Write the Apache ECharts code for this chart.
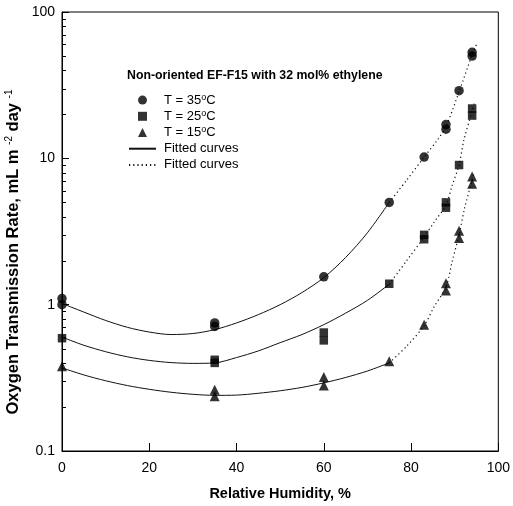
<!DOCTYPE html>
<html>
<head>
<meta charset="utf-8">
<script src="https://cdn.jsdelivr.net/npm/echarts@6/dist/echarts.min.js"></script>
<style>html,body{margin:0;padding:0;background:#fff;}#c{width:513px;height:506px;}</style>
</head>
<body>
<div id="c"></div>
<script>
// Measured points (relative humidity %, oxygen transmission rate)
const rh35 = [0, 0, 35, 35, 60, 75, 83, 88, 88, 91, 94, 94];
const otr35 = [1.1, 1.0, 0.75, 0.71, 1.55, 5.0, 10.2, 17.0, 15.8, 29, 53, 50];
const rh25 = [0, 35, 35, 60, 60, 75, 83, 83, 88, 88, 91, 94, 94];
const otr25 = [0.59, 0.42, 0.40, 0.645, 0.57, 1.39, 3.0, 2.8, 5.0, 4.6, 9.0, 21.9, 19.6];
const rh15 = [0, 35, 35, 60, 60, 75, 83, 88, 88, 91, 91, 94, 94];
const otr15 = [0.38, 0.262, 0.237, 0.32, 0.28, 0.41, 0.73, 1.4, 1.25, 3.2, 2.85, 7.5, 6.7];

// Fitted curves (solid part 0-75 %, dotted part 75-95 %)
const fitSolidRH = [0, 5, 10, 15, 20, 25, 30, 35, 40, 45, 50, 55, 60, 65, 70, 75];
const fitSolid35 = [1.02, 0.89, 0.78, 0.70, 0.65, 0.625, 0.635, 0.675, 0.75, 0.855, 1.0, 1.21, 1.53, 2.1, 3.1, 5.0];
const fitSolid25 = [0.60, 0.528, 0.477, 0.44, 0.416, 0.402, 0.397, 0.40, 0.435, 0.483, 0.55, 0.625, 0.73, 0.875, 1.07, 1.38];
const fitSolid15 = [0.37, 0.331, 0.302, 0.28, 0.264, 0.252, 0.244, 0.240, 0.241, 0.248, 0.258, 0.272, 0.292, 0.318, 0.352, 0.40];
const fitDotRH35 = [75, 79, 83, 86, 88, 91, 94, 95];
const fitDot35 = [5.0, 7.1, 10.2, 13.3, 16.5, 28.5, 51, 60];
const fitDotRH25 = [75, 79, 83, 85.3, 88, 89.4, 91, 92.1, 94, 94.5];
const fitDot25 = [1.38, 2.0, 2.9, 3.67, 4.8, 6.5, 9.0, 13.3, 21, 24];
const fitDotRH15 = [75, 79, 83, 85.3, 88, 89.4, 91, 92.3, 94, 94.5];
const fitDot15 = [0.40, 0.52, 0.72, 0.97, 1.32, 1.96, 3.0, 4.6, 7.1, 8.0];

// Axis ticks
const xTicks = [0, 20, 40, 60, 80, 100];
const yMajor = [0.1, 1, 10, 100];
const yMinor = [0.2,0.3,0.4,0.5,0.6,0.7,0.8,0.9,2,3,4,5,6,7,8,9,20,30,40,50,60,70,80,90];

const FONT = 'Liberation Sans, Arial, Helvetica, sans-serif';
const zip = (a, b) => a.map((v, i) => [v, b[i]]);

const chart = echarts.init(document.getElementById('c'), null, {renderer: 'canvas'});

const solidStyle = {color: '#111', width: 1, type: 'solid'};
const dotStyle = {color: '#111', width: 1.2, type: [1.2, 3]};

function lineSeries(name, data, style) {
  return {
    name: name, type: 'line', data: data, smooth: 0.3, symbol: 'none',
    lineStyle: style, itemStyle: {color: '#111', opacity: 0}, z: 2, silent: true, animation: false
  };
}
function scatterSeries(name, data, symbol, size) {
  return {
    name: name, type: 'scatter', data: data, symbol: symbol, symbolSize: size,
    itemStyle: {color: '#000'}, z: 5, animation: false
  };
}

const yNameText = {
  type: 'text', x: 13, y: 252, rotation: Math.PI / 2,
  style: {
    text: 'Oxygen Transmission Rate, mL m {s|-2} day {s|-1}',
    fontFamily: FONT, fontSize: 16.5, fontWeight: 'bold', fill: '#000',
    align: 'center', verticalAlign: 'middle', lineHeight: 18,
    rich: {s: {fontFamily: FONT, fontSize: 10, fontWeight: 'normal', lineHeight: 10, verticalAlign: 'top', fill: '#000'}}
  }
};

chart.setOption({
  backgroundColor: '#fff',
  animation: false,
  title: {
    text: 'Non-oriented EF-F15 with 32 mol% ethylene',
    left: 127, top: 70, padding: 0,
    textStyle: {fontFamily: FONT, fontSize: 12.3, fontWeight: 'bold', color: '#000'}
  },
  legend: {
    orient: 'vertical', left: 128, top: 93, padding: 0,
    itemWidth: 27, itemHeight: 9, itemGap: 2, symbolKeepAspect: true,
    data: [
      {name: 'T = 35°C', icon: 'circle'},
      {name: 'T = 25°C', icon: 'path://M0,0L10,0L10,10L0,10Z'},
      {name: 'T = 15°C', icon: 'path://M5,0L10,10L0,10Z'},
      {name: 'Fitted curves', itemStyle: {opacity: 0}},
      {name: 'Fitted curves ', itemStyle: {opacity: 0}}
    ],
    formatter: n => n.replace('°', '{s|o}'),
    textStyle: {
      fontFamily: FONT, fontSize: 13, color: '#000', lineHeight: 14.2, padding: [0, 0, 0, 3],
      rich: {s: {fontFamily: FONT, fontSize: 9, lineHeight: 9, verticalAlign: 'top', color: '#000'}}
    },
    selectedMode: false
  },
  grid: {left: 62, right: 8, top: 12, bottom: 54, show: true, borderColor: '#000', borderWidth: 1, backgroundColor: 'transparent'},
  xAxis: {
    type: 'value', min: xTicks[0], max: xTicks[xTicks.length - 1], interval: 20,
    name: 'Relative Humidity, %', nameLocation: 'middle', nameGap: 35,
    nameTextStyle: {fontFamily: FONT, fontSize: 14.5, fontWeight: 'bold', color: '#000'},
    axisLine: {lineStyle: {color: '#000', width: 1}},
    axisTick: {inside: true, length: 8, lineStyle: {color: '#000'}},
    axisLabel: {fontFamily: FONT, fontSize: 14, color: '#000', margin: 10},
    splitLine: {show: false}
  },
  yAxis: {
    type: 'log', logBase: 10, min: yMajor[0], max: yMajor[yMajor.length - 1], splitNumber: 3,
    axisLine: {lineStyle: {color: '#000', width: 1}},
    axisTick: {inside: true, length: 7, lineStyle: {color: '#000'}},
    axisLabel: {fontFamily: FONT, fontSize: 14, color: '#000', margin: 7,
      formatter: v => String(+v.toPrecision(3))},
    splitLine: {show: false},
    minorTick: {show: false}
  },
  graphic: [yNameText],
  series: [
    scatterSeries('T = 35°C', zip(rh35, otr35), 'circle', 9.5),
    scatterSeries('T = 25°C', zip(rh25, otr25), 'rect', 8.5),
    scatterSeries('T = 15°C', zip(rh15, otr15), 'triangle', 10),
    lineSeries('Fitted curves', zip(fitSolidRH, fitSolid35), solidStyle),
    lineSeries('Fitted curves', zip(fitSolidRH, fitSolid25), solidStyle),
    lineSeries('Fitted curves', zip(fitSolidRH, fitSolid15), solidStyle),
    lineSeries('Fitted curves ', zip(fitDotRH35, fitDot35), dotStyle),
    lineSeries('Fitted curves ', zip(fitDotRH25, fitDot25), dotStyle),
    lineSeries('Fitted curves ', zip(fitDotRH15, fitDot15), dotStyle)
  ]
});

// Log-axis minor ticks (2..9 × 10^k), positioned through the library's own scale
const minorEls = yMinor.map(v => {
  const p = chart.convertToPixel({xAxisIndex: 0, yAxisIndex: 0}, [xTicks[0], v]);
  const y = Math.round(p[1]) + 0.5;
  return {type: 'line', silent: true, z: 10,
    shape: {x1: p[0], y1: y, x2: p[0] + 4, y2: y},
    style: {stroke: '#000', lineWidth: 1}};
});
chart.setOption({graphic: [yNameText].concat(minorEls)});
</script>
</body>
</html>
